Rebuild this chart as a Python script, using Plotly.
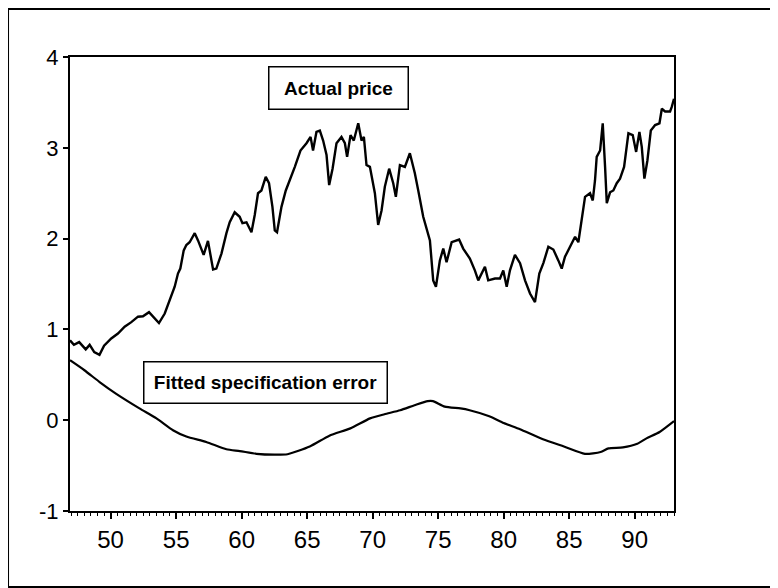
import plotly.graph_objects as go

# Actual price (year, value)
price_years = [46.9, 47.2, 47.6, 48.1, 48.4, 48.75, 49.15, 49.5, 50.05, 50.56, 51.07, 51.58, 52.09, 52.47,
               52.93, 53.23, 53.69, 54.13, 54.5, 54.89, 55.14, 55.32, 55.58, 55.78, 56.03, 56.42, 56.67,
               57.1, 57.43, 57.82, 58.07, 58.46, 58.84, 59.09, 59.47, 59.85, 60.06, 60.37, 60.75, 61.0,
               61.25, 61.51, 61.84, 62.09, 62.35, 62.53, 62.7, 63.04, 63.37, 63.67, 64.06, 64.49, 64.95,
               65.26, 65.45, 65.71, 65.97, 66.22, 66.48, 66.68, 66.94, 67.24, 67.62, 67.88, 68.05, 68.31,
               68.56, 68.9, 69.15, 69.33, 69.53, 69.79, 70.17, 70.42, 70.68, 70.93, 71.26, 71.57, 71.77,
               72.08, 72.46, 72.84, 73.22, 73.48, 73.86, 74.37, 74.62, 74.83, 75.13, 75.39, 75.64, 76.03,
               76.6, 76.91, 77.42, 77.8, 78.06, 78.57, 78.82, 79.34, 79.72, 79.97, 80.23, 80.48, 80.86,
               81.25, 81.63, 82.01, 82.39, 82.72, 83.03, 83.41, 83.79, 84.17, 84.43, 84.68, 85.07, 85.45,
               85.7, 85.96, 86.21, 86.59, 86.8, 86.97, 87.1, 87.36, 87.56, 87.74, 87.87, 88.12, 88.37,
               88.63, 88.88, 89.19, 89.52, 89.85, 90.11, 90.36, 90.54, 90.74, 90.97, 91.23, 91.56, 91.89,
               92.07, 92.32, 92.7, 92.83, 93.0]
price_values = [0.88, 0.83, 0.86, 0.78, 0.83, 0.75, 0.72, 0.82, 0.90, 0.955, 1.03, 1.08, 1.14, 1.145,
                1.19, 1.14, 1.07, 1.175, 1.32, 1.47, 1.615, 1.67, 1.87, 1.93, 1.96, 2.06, 1.98,
                1.82, 1.975, 1.66, 1.67, 1.835, 2.06, 2.18, 2.29, 2.24, 2.17, 2.18, 2.07, 2.26,
                2.50, 2.53, 2.68, 2.61, 2.35, 2.09, 2.07, 2.35, 2.53, 2.64, 2.79, 2.97, 3.05,
                3.12, 2.97, 3.175, 3.19, 3.08, 2.92, 2.59, 2.77, 3.05, 3.12, 3.05, 2.90, 3.14,
                3.08, 3.27, 3.08, 3.12, 2.81, 2.79, 2.50, 2.15, 2.31, 2.57, 2.77, 2.61, 2.46,
                2.81, 2.79, 2.94, 2.72, 2.53, 2.24, 1.98, 1.54, 1.47, 1.76, 1.89, 1.74, 1.96,
                1.99, 1.89, 1.78, 1.65, 1.54, 1.69, 1.54, 1.56, 1.56, 1.65, 1.47, 1.65, 1.82,
                1.73, 1.54, 1.395, 1.30, 1.615, 1.73, 1.91, 1.88, 1.76, 1.67, 1.80, 1.91, 2.02,
                1.96, 2.20, 2.46, 2.50, 2.42, 2.64, 2.90, 2.97, 3.27, 2.79, 2.39, 2.51, 2.53,
                2.61, 2.66, 2.79, 3.16, 3.14, 2.955, 3.175, 3.01, 2.66, 2.86, 3.19, 3.25, 3.27,
                3.43, 3.40, 3.40, 3.45, 3.54]

# Fitted specification error
fit_years = [46.9, 48.0, 49.16, 50.43, 52.2, 53.5, 54.76, 55.78, 57.3, 58.84, 59.86, 61.13, 62.5, 63.5,
             65.2, 66.7, 68.3, 69.8, 70.9, 72.1, 73.2, 74.2, 74.6, 75.5, 76.7, 77.4, 78.9, 80.0, 81.25,
             83.0, 84.6, 86.2, 87.4, 88.0, 89.1, 90.2, 90.9, 91.9, 93.0]
fit_values = [0.66, 0.55, 0.42, 0.29, 0.13, 0.02, -0.11, -0.18, -0.24, -0.32, -0.34, -0.37, -0.38, -0.375,
              -0.29, -0.17, -0.09, 0.02, 0.066, 0.11, 0.165, 0.21, 0.21, 0.15, 0.13, 0.11, 0.044, -0.03, -0.10,
              -0.21, -0.29, -0.37, -0.35, -0.31, -0.30, -0.26, -0.20, -0.13, -0.01]

x_tickvals = [50, 55, 60, 65, 70, 75, 80, 85, 90]
x_ticktext = ["50", "55", "60", "65", "70", "75", "80", "85", "90"]
y_tickvals = [-1, 0, 1, 2, 3, 4]
y_ticktext = ["-1", "0", "1", "2", "3", "4"]

FONT = "Arial, 'Liberation Sans', sans-serif"

fig = go.Figure()
fig.add_trace(go.Scatter(x=price_years, y=price_values, mode="lines",
                         line=dict(color="black", width=2.4), name="Actual price"))
fig.add_trace(go.Scatter(x=fit_years, y=fit_values, mode="lines",
                         line=dict(color="black", width=2.2, shape="spline", smoothing=0.6),
                         name="Fitted specification error"))

fig.update_layout(
    width=770, height=580,
    margin=dict(l=62, r=104, t=49, b=77),
    paper_bgcolor="white", plot_bgcolor="white",
    showlegend=False,
    font=dict(family=FONT, color="black", size=22),
    xaxis=dict(range=[46.9, 93.0], showgrid=False, zeroline=False,
               showline=True, linecolor="black", linewidth=2, mirror=True,
               tickmode="array", tickvals=x_tickvals, ticktext=x_ticktext,
               ticks="outside", ticklen=6, tickwidth=1.5, tickcolor="black",
               minor=dict(dtick=0.5, tick0=50, ticks="outside", ticklen=3, tickwidth=1, tickcolor="black"),
               tickfont=dict(size=24, family=FONT)),
    yaxis=dict(range=[-1, 4], showgrid=False, zeroline=False,
               showline=True, linecolor="black", linewidth=2, mirror=True,
               tickmode="array", tickvals=y_tickvals, ticktext=y_ticktext,
               ticks="outside", ticklen=5, tickwidth=1.5, tickcolor="black",
               tickfont=dict(size=22, family=FONT)),
    shapes=[dict(type="rect", xref="paper", yref="paper",
                 x0=-0.1026, x1=1.2, y0=-0.1674, y1=1.1057,
                 line=dict(color="black", width=2))],
    annotations=[
        dict(x=67.38, y=3.66, xref="x", yref="y", text="<b>Actual price</b>", showarrow=False,
             font=dict(size=19, family=FONT, color="black"), width=134, height=37, align="center",
             bordercolor="black", borderwidth=1.5, borderpad=2, bgcolor="white"),
        dict(x=61.84, y=0.415, xref="x", yref="y", text="<b>Fitted specification error</b>", showarrow=False,
             font=dict(size=19, family=FONT, color="black"), width=238, height=36, align="center",
             bordercolor="black", borderwidth=1.5, borderpad=2, bgcolor="white"),
    ],
)

fig.write_html("out.html")
